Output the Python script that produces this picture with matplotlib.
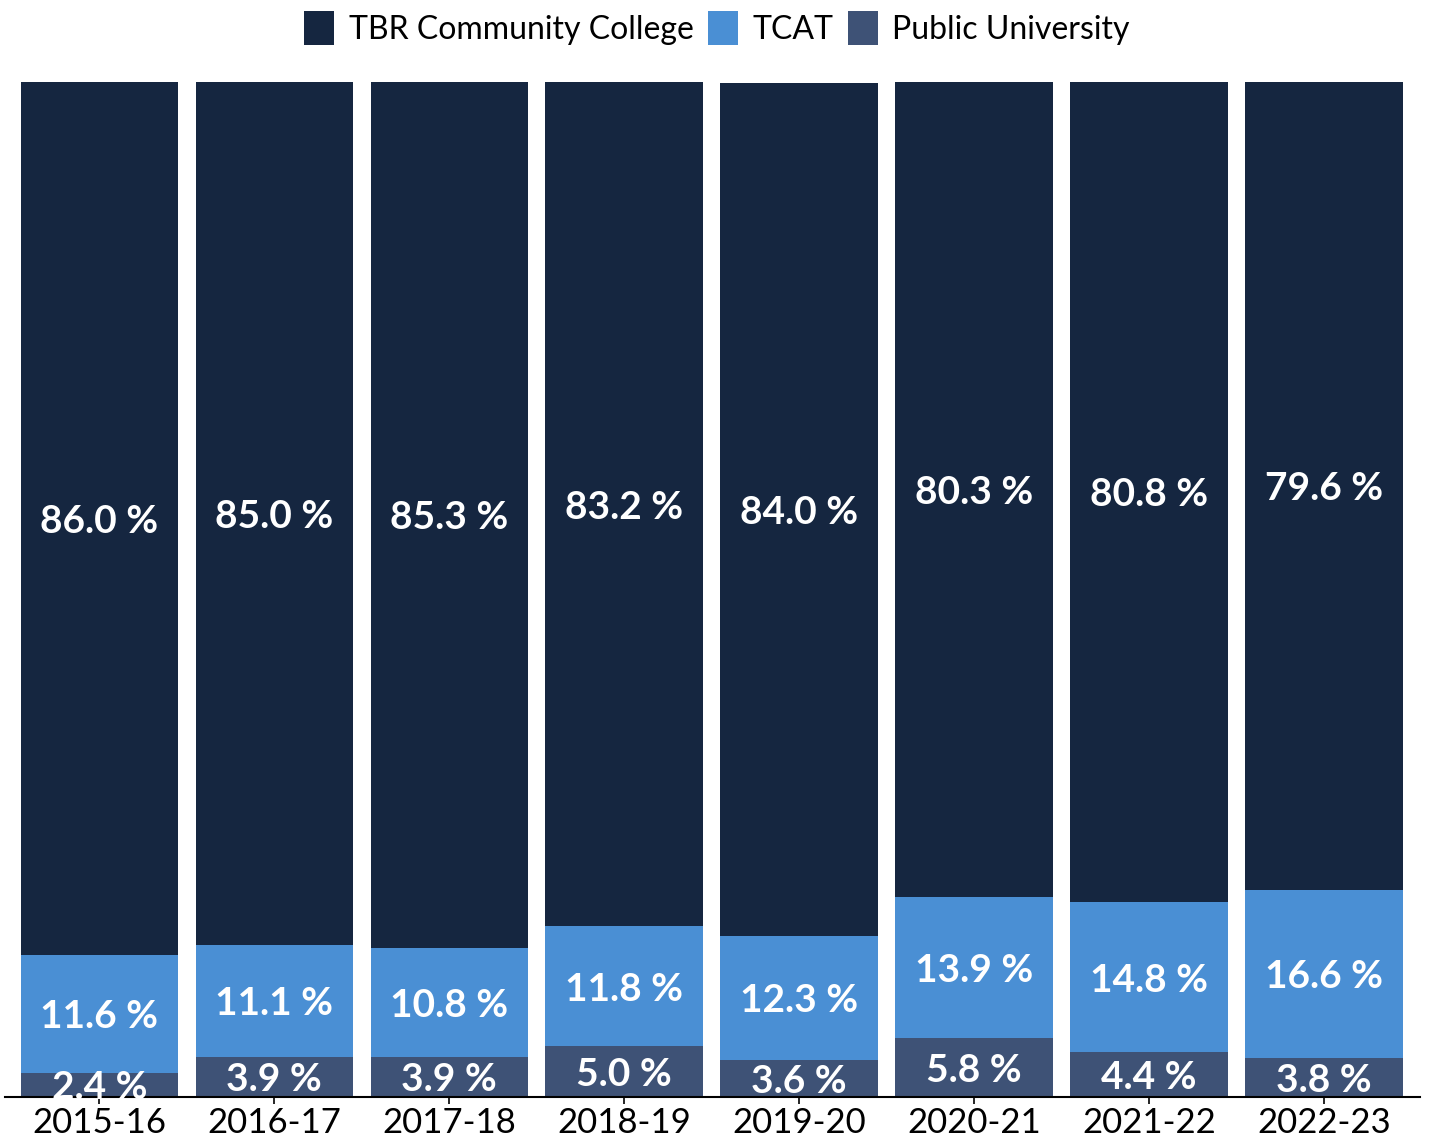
import matplotlib.pyplot as plt
import numpy as np

# share of transfers by sector, per academic year
years = ['2015-16', '2016-17', '2017-18', '2018-19', '2019-20', '2020-21', '2021-22', '2022-23']
public_univ = [2.4, 3.9, 3.9, 5.0, 3.6, 5.8, 4.4, 3.8]
tcat = [11.6, 11.1, 10.8, 11.8, 12.3, 13.9, 14.8, 16.6]
tbr_cc = [86.0, 85.0, 85.3, 83.2, 84.0, 80.3, 80.8, 79.6]

colors = {'TBR Community College': '#152640', 'TCAT': '#4A8FD4', 'Public University': '#3E5276'}

plt.rcParams['font.family'] = ['Lato', 'DejaVu Sans']

fig = plt.figure(figsize=(14.3, 11.41), dpi=100)
ax = fig.add_axes([5 / 1430, 44 / 1141, 1415 / 1430, 1015 / 1141])

x = np.arange(len(years))
width = 0.9

b_pub = ax.bar(x, public_univ, width, color=colors['Public University'], label='Public University')
b_tcat = ax.bar(x, tcat, width, bottom=public_univ, color=colors['TCAT'], label='TCAT')
bottom_cc = np.array(public_univ) + np.array(tcat)
b_cc = ax.bar(x, tbr_cc, width, bottom=bottom_cc, color=colors['TBR Community College'],
              label='TBR Community College')

# value labels centred in each segment
for i in range(len(years)):
    segs = [(0, public_univ[i]), (public_univ[i], tcat[i]), (bottom_cc[i], tbr_cc[i])]
    for base, val in segs:
        ax.annotate(f'{val:.1f} %', (x[i], base + val / 2), xytext=(0, -2),
                    textcoords='offset points', ha='center', va='center',
                    color='white', fontsize=28, fontweight='bold')

ax.set_xlim(-0.54, 7.55)
ax.set_ylim(0, 100)
ax.set_xticks(x)
ax.set_xticklabels(years, fontsize=25)
ax.tick_params(axis='x', length=5, width=1.2, pad=2)
ax.set_yticks([])
for side in ['top', 'right', 'left']:
    ax.spines[side].set_visible(False)
ax.spines['bottom'].set_linewidth(1.5)

handles = [b_cc, b_tcat, b_pub]
fig.legend(handles, [h.get_label() for h in handles], loc='center',
           bbox_to_anchor=(717 / 1430, 1 - 28 / 1141), ncol=3, frameon=False,
           fontsize=23, handlelength=0.94, handleheight=1.25, handletextpad=0.45,
           columnspacing=0.45)

fig.savefig('out.png', dpi=100)
